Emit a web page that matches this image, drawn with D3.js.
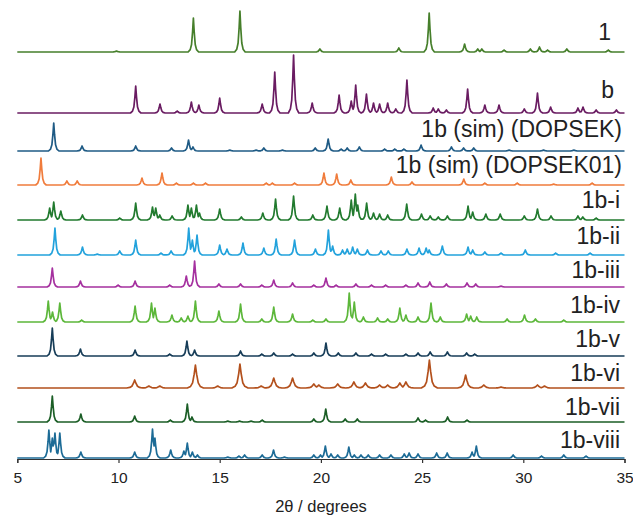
<!DOCTYPE html>
<html>
<head>
<meta charset="utf-8">
<script src="https://cdn.jsdelivr.net/npm/d3@7"></script>
<style>
  body { margin: 0; background: #fff; }
  text { font-family: "Liberation Sans", Arial, sans-serif; fill: #222; }
</style>
</head>
<body>
<svg id="chart"></svg>
<script>
// pattern names (top to bottom)
var names = ["1", "b", "1b (sim) (DOPSEK)", "1b (sim) (DOPSEK01)", "1b-i", "1b-ii",
             "1b-iii", "1b-iv", "1b-v", "1b-vi", "1b-vii", "1b-viii"];

// vertical stacking offset of each pattern (a.u.)
var offsets = [407, 346, 308, 274, 239, 204, 172, 137, 103, 71, 37, 1];

var xTicks = [5, 10, 15, 20, 25, 30, 35];

// peaks: [2theta, intensity a.u.]
var peaks1 = [[9.9,1],[13.7,34],[16.0,41],[19.95,3],[23.85,4],[25.35,39],[27.1,8],[27.75,3],[27.95,3],
  [29.05,2],[30.35,3],[30.8,5],[31.2,2],[32.15,3],[34.2,2]];
var peaksB = [[10.85,27],[12.05,9],[12.9,2],[13.6,11],[13.97,8],[15.0,15],[17.1,9],[17.72,41],[18.65,58],
  [19.57,10],[20.9,18],[21.5,12],[21.72,28],[22.25,19],[22.6,10],[22.9,9],[23.3,10],[23.7,4],[24.25,33],
  [25.55,5],[25.8,4],[26.2,3],[27.25,24],[28.1,8],[28.8,8],[30.05,4],[30.7,20],[31.35,6],[32.7,5],
  [32.95,6],[33.6,3],[34.6,3]];
var peaksSim = [[6.8,28],[8.2,5],[10.85,5],[12.62,3],[13.46,11],[13.68,4],[15.5,1],[16.8,1],[17.18,3],
  [18.1,1],[19.72,3],[20.36,12],[21.0,2],[21.3,3],[21.9,4],[23.15,2],[23.65,2],[24.1,2],[24.95,6],
  [26.45,4],[27.05,3],[27.55,3],[29.3,1],[31.0,1],[32.5,1]];
var peaksSim01 = [[6.17,27],[7.45,4],[7.96,4],[11.16,7],[12.15,12],[12.86,2],[13.7,2],[14.3,2],[17.3,2],
  [17.6,2],[18.7,2],[20.15,12],[20.78,11],[21.48,5],[23.48,8],[24.5,3],[27.06,6],[28.1,2],[29.7,2],
  [31.5,1],[33.4,2]];
var peaksI = [[6.6,12],[6.8,18],[7.15,9],[8.22,5],[10.06,2],[10.85,17],[11.68,13],[11.84,12],[12.04,5],
  [12.65,4],[13.43,15],[13.6,12],[13.85,15],[14.0,7],[15.0,11],[16.07,3],[17.13,7],[17.76,21],[18.65,24],
  [19.6,5],[20.3,14],[20.93,12],[21.5,20],[21.7,26],[21.82,15],[22.26,17],[22.6,7],[22.9,6],[23.3,5],
  [24.24,16],[24.97,6],[25.4,4],[25.8,3],[26.25,4],[27.27,14],[27.5,8],[28.15,6],[28.86,6],[30.05,4],
  [30.7,11],[31.37,4],[32.7,4],[32.94,3],[33.6,2]];
var peaksII = [[6.86,27],[8.22,8],[8.95,1],[10.06,4],[10.85,15],[12.1,2],[12.6,4],[13.47,27],[13.65,15],
  [13.88,20],[15.0,10],[15.36,6],[16.15,12],[17.18,7],[17.79,16],[18.7,15],[19.73,6],[20.37,25],[20.58,9],
  [21.07,5],[21.3,6],[21.57,8],[21.8,6],[22.3,5],[22.97,4],[23.33,4],[24.25,6],[24.85,7],[25.2,7],
  [25.35,5],[26.0,9],[27.27,8],[27.5,5],[28.1,3],[28.9,2],[30.1,5],[31.6,2],[33.3,2]];
var peaksIII = [[6.73,19],[8.12,6],[9.98,2],[10.82,6],[12.53,2],[13.35,11],[13.76,26],[14.96,3],[16.03,3],
  [17.08,2],[17.67,7],[18.6,4],[19.65,2],[20.25,9],[20.75,2],[21.73,3],[22.5,2],[23.2,2],[24.2,2],
  [24.8,4],[25.38,5],[26.2,3],[27.22,4],[27.65,3],[28.9,1]];
var peaksIV = [[6.53,21],[6.74,10],[7.1,19],[8.18,2],[10.82,16],[11.63,19],[11.8,14],[12.64,7],[13.1,4],
  [13.43,6],[13.8,21],[14.96,11],[16.03,18],[17.08,3],[17.67,15],[18.6,8],[19.6,2],[20.25,3],[21.4,29],
  [21.65,20],[22.1,5],[22.8,4],[23.3,3],[23.9,14],[24.2,7],[24.8,5],[25.44,19],[25.9,5],[27.2,8],
  [27.4,6],[27.7,5],[29.2,3],[30.06,7],[30.6,3],[32.0,2]];
var peaksV = [[6.73,28],[8.12,7],[10.82,6],[12.53,2],[13.38,15],[13.76,6],[16.03,5],[17.08,2],[17.67,3],
  [18.6,2],[19.65,3],[20.25,13],[20.86,3],[21.73,3],[22.5,2],[23.2,2],[24.2,2],[24.8,3],[25.4,4],
  [26.25,4],[27.2,3],[27.6,2]];
var peaksVI = [[10.8,8],[11.5,2],[12.04,2],[13.8,23],[14.9,2],[16.0,24],[17.05,2],[17.67,10],[18.6,10],
  [19.65,4],[19.9,3],[20.83,4],[21.63,6],[22.2,5],[22.9,3],[23.3,3],[23.9,5],[24.2,6],[25.36,28],
  [27.15,13],[28.05,3],[28.9,1],[30.7,3],[31.05,2]];
var peaksVII = [[6.73,26],[8.14,8],[10.8,6],[12.56,2],[13.4,18],[13.63,5],[15.4,1],[15.98,1],[16.55,1],
  [17.1,2],[19.65,3],[20.24,13],[21.2,3],[21.8,3],[24.8,4],[25.17,2],[26.26,5],[27.22,2]];
var peaksVIII = [[6.56,28],[6.73,20],[6.86,25],[7.1,25],[8.14,6],[10.8,6],[11.68,29],[11.8,20],[12.58,8],
  [13.23,7],[13.4,15],[13.65,6],[13.9,3],[15.4,1],[15.95,2],[16.23,3],[17.1,3],[17.66,8],[18.2,1],
  [19.65,3],[19.98,3],[20.22,12],[20.5,4],[20.83,3],[21.38,11],[21.65,3],[21.98,3],[22.34,3],[22.9,3],
  [23.46,3],[24.12,4],[24.36,5],[24.8,4],[25.72,5],[26.24,5],[27.47,6],[27.68,12],[29.5,3],[30.9,2],
  [32.0,3],[33.1,2]];

var allPeaks = [peaks1, peaksB, peaksSim, peaksSim01, peaksI, peaksII, peaksIII, peaksIV,
                peaksV, peaksVI, peaksVII, peaksVIII];

var colors = ["#467f2b", "#6a1c62", "#1f5b85", "#f07c3c", "#217a2e", "#22a2dc",
              "#a5309f", "#5cb73a", "#173d58", "#b3501c", "#1b5e26", "#1c6b96"];
// peak width factor per pattern (broader for 1b-vi)
var widths = [1.3, 1.3, 1.3, 1.3, 1.3, 1.3, 1.3, 1.3, 1.3, 2, 1.3, 1.3];

var W = 633, H = 515;
var svg = d3.select("#chart").attr("width", W).attr("height", H);

var x = d3.scaleLinear().domain([5, 35]).range([17.3, 624.5]);
var y = d3.scaleLinear().domain([0, 459]).range([459, 0]);

// axis
var axis = d3.axisBottom(x).tickValues(xTicks).tickSize(4).tickPadding(9)
  .tickFormat(d3.format("d"));
var gx = svg.append("g").attr("transform", "translate(0,459)").call(axis);
gx.select(".domain").attr("stroke", "#333").attr("stroke-width", 1.2);
gx.selectAll(".tick line").attr("stroke", "#333").attr("stroke-width", 1.2);
gx.selectAll(".tick text").attr("font-size", 15.5).attr("fill", "#222")
  .style("font-family", "Liberation Sans, Arial, sans-serif");

svg.append("text")
  .attr("x", 321).attr("y", 512)
  .attr("text-anchor", "middle")
  .attr("font-size", 16.5)
  .text("2\u03b8 / degrees");

// half profile of one peak: [offset in degrees, fraction of height]
var shape = [[0, 1], [0.03, 0.6], [0.07, 0.22], [0.12, 0.07], [0.2, 0]];

var peakAt = function(p, dx, wf) {
  var d = Math.abs(dx) / wf;
  if (d >= shape[shape.length - 1][0]) return 0;
  for (var i = 1; i < shape.length; i++) {
    if (d <= shape[i][0]) {
      var t = (d - shape[i - 1][0]) / (shape[i][0] - shape[i - 1][0]);
      return p[1] * (shape[i - 1][1] + t * (shape[i][1] - shape[i - 1][1]));
    }
  }
  return 0;
};

var buildLine = function(peaks, wf) {
  var xs = [5, 35];
  peaks.forEach(function(p) {
    shape.forEach(function(s) {
      xs.push(p[0] - s[0] * wf);
      xs.push(p[0] + s[0] * wf);
    });
  });
  xs = Array.from(new Set(xs)).sort(function(a, b) { return a - b; });
  return xs.map(function(xv) {
    var v = 0;
    peaks.forEach(function(p) {
      var h = peakAt(p, xv - p[0], wf);
      if (h > v) v = h;
    });
    return [xv, v];
  });
};

allPeaks.forEach(function(peaks, i) {
  var pts = buildLine(peaks, widths[i]);
  var line = d3.line()
    .x(function(d) { return x(d[0]); })
    .y(function(d) { return y(offsets[i] + d[1]); });
  svg.append("path")
    .datum(pts)
    .attr("d", line)
    .attr("fill", "none")
    .attr("stroke", colors[i])
    .attr("stroke-width", 1.7)
    .attr("stroke-linejoin", "round");
});

// labels
var labelRight = [611, 614, 622, 622, 620, 620, 620, 620, 620, 620, 620, 620];
var labelY = [40, 98, 137, 173, 208, 244, 278, 313, 347, 381, 415, 448];
names.forEach(function(n, i) {
  svg.append("text")
    .attr("x", labelRight[i])
    .attr("y", labelY[i])
    .attr("text-anchor", "end")
    .attr("font-size", 23)
    .attr("fill", "#262626")
    .text(n);
});
</script>
</body>
</html>
